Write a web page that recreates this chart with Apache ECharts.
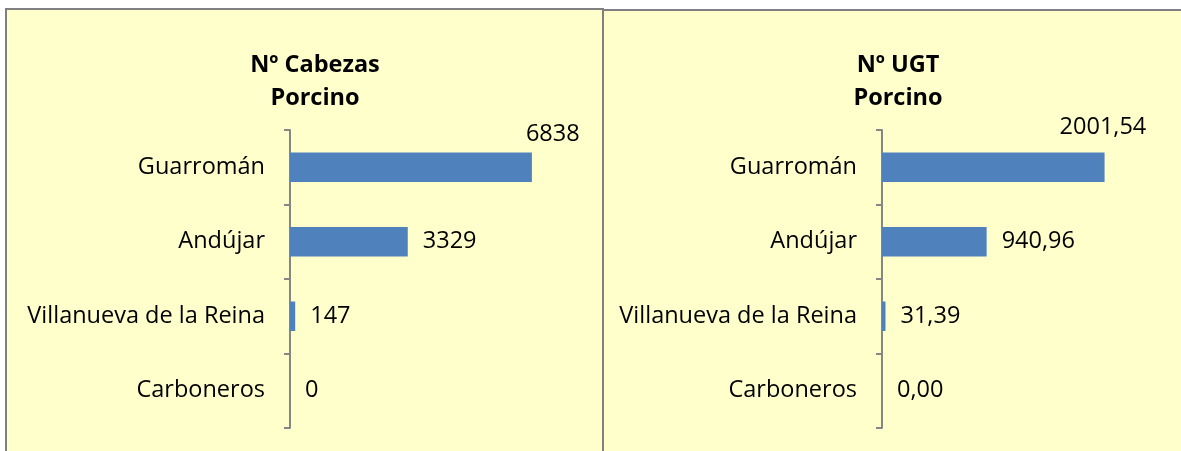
<!DOCTYPE html>
<html>
<head>
<meta charset="utf-8">
<script src="https://cdn.jsdelivr.net/npm/echarts@6/dist/echarts.min.js"></script>
<style>
html, body { margin: 0; padding: 0; background: #fff; overflow: hidden; }
/* fondos de los dos paneles */
.panel {
  position: absolute;
  box-sizing: border-box;
  height: 470px;
  background: #ffffcc;
  border: 2px solid #808080;
}
#panel1 { left: 5px; top: 8px; width: 599px; }
#panel2 { left: 602px; top: 9px; width: 620px; }
#chart { position: absolute; left: 0; top: 0; width: 1181px; height: 451px; }
</style>
</head>
<body>
<div id="panel1" class="panel"></div>
<div id="panel2" class="panel"></div>
<div id="chart"></div>
<script>
// datos
const municipios = ['Guarromán', 'Andújar', 'Villanueva de la Reina', 'Carboneros']
const cabezas = [6838, 3329, 147, 0]
const ugt = [2001.54, 940.96, 31.39, 0.00]
const titulos = ['Nº Cabezas\nPorcino', 'Nº UGT\nPorcino']

const font = 'Open Sans'
const barColor = '#4f81bd'
const axisColor = '#868686'

const yAxisBase = (gridIndex) => ({
  type: 'category',
  gridIndex: gridIndex,
  data: municipios,
  inverse: true,
  axisLine: { show: true, lineStyle: { color: axisColor, width: 2 } },
  axisTick: { show: true, length: 6, lineStyle: { color: axisColor, width: 2 } },
  axisLabel: { margin: 25, color: '#000', fontFamily: font, fontSize: 23.5 },
  splitLine: { show: false }
})

const xAxisBase = (gridIndex, max) => ({
  type: 'value',
  gridIndex: gridIndex,
  min: 0,
  max: max,
  show: false
})

// la primera etiqueta se desplaza por encima de la barra, como en Excel
const barData = (values, firstOffset) => values.map((v, i) =>
  i === 0 ? { value: v, label: { offset: firstOffset } } : v)

const serieBase = (idx, values, formatter, firstOffset) => ({
  type: 'bar',
  xAxisIndex: idx,
  yAxisIndex: idx,
  barWidth: 29.5,
  itemStyle: { color: barColor },
  label: {
    show: true,
    position: 'right',
    distance: 15,
    color: '#000',
    fontFamily: font,
    fontSize: 23.5,
    formatter: formatter
  },
  data: barData(values, firstOffset)
})

const option = {
  animation: false,
  backgroundColor: 'transparent',
  title: [{
    text: titulos[0],
    left: 310,
    top: 44,
    textAlign: 'center',
    textStyle: { fontFamily: font, fontWeight: 'bold', fontSize: 23.5, lineHeight: 33, color: '#000' }
  }, {
    text: titulos[1],
    left: 893,
    top: 44,
    textAlign: 'center',
    textStyle: { fontFamily: font, fontWeight: 'bold', fontSize: 23.5, lineHeight: 33, color: '#000' }
  }],
  grid: [
    { left: 290, top: 130, width: 283, height: 298 },
    { left: 882, top: 130, width: 278, height: 298 }
  ],
  xAxis: [xAxisBase(0, 8000), xAxisBase(1, 2500)],
  yAxis: [yAxisBase(0), yAxisBase(1)],
  series: [
    serieBase(0, cabezas, p => String(p.value), [-21, -33]),
    serieBase(1, ugt, p => p.value.toFixed(2).replace('.', ','), [-60, -40])
  ]
}

const chart = echarts.init(document.getElementById('chart'))
chart.setOption(option)
</script>
</body>
</html>
